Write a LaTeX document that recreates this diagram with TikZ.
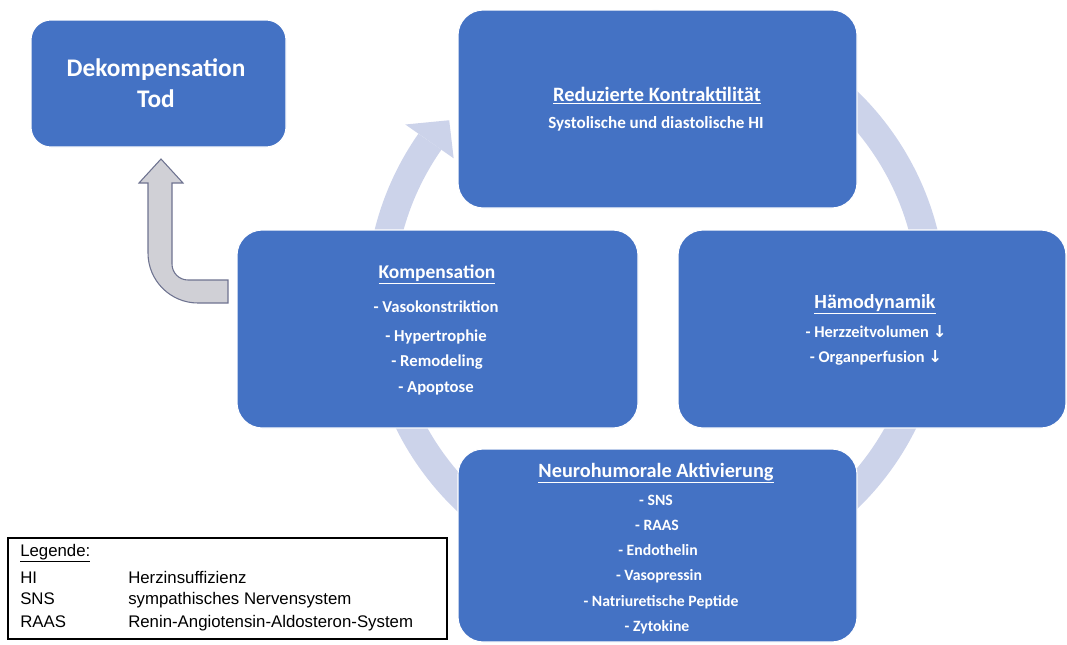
\documentclass[tikz,border=0pt]{standalone}
\usepackage{fontspec}
\setmainfont{Carlito}
\newfontfamily\legendfont{Liberation Sans}
\newfontfamily\arrowfont{DejaVu Sans}
\usetikzlibrary{calc}
\definecolor{boxblue}{HTML}{4472C4}
\definecolor{ringlav}{HTML}{CCD3EA}
\definecolor{arrowgrey}{HTML}{D0D0D6}
\definecolor{arrowedge}{HTML}{6E7390}
\newcommand{\dn}{{\arrowfont\char"2193}}
\begin{document}
\begin{tikzpicture}[x=0.75pt,y=-0.75pt,
  box/.style={fill=boxblue, draw=white, line width=0.8pt,
    rounded corners=19pt, inner sep=0pt},
  txt/.style={text=white, anchor=base, inner sep=0pt},
  head/.style={txt, font=\bfseries\fontsize{#1}{#1}\selectfont},
  item/.style={txt, font=\bfseries\fontsize{#1}{#1}\selectfont},
  legtxt/.style={anchor=base west, inner sep=0pt,
    font=\legendfont\fontsize{12.6}{12.6}\selectfont}]
\useasboundingbox (0,0) rectangle (1067,644);

% circular arrow behind the cycle boxes
\coordinate (rc) at (656,300);
\draw[ringlav, line width=21pt] ($(rc)+(235:276)$) arc[start angle=235, end angle=575, radius=276];
\fill[ringlav] ($(rc)+(215:247)$) -- ($(rc)+(215:306)$) -- ($(rc)+(221:274)$) -- cycle;

% cycle boxes
\node[box, minimum width=299.25pt, minimum height=148.5pt] (reduz) at (657.5,109) {};
\node[box, minimum width=291pt, minimum height=148.5pt] (haemo) at (872,329) {};
\node[box, minimum width=300.75pt, minimum height=148.5pt] (komp) at (437.5,329) {};
\node[box, minimum width=299.25pt, minimum height=144.75pt] (neuro) at (657.5,545.5) {};
\node[box, rounded corners=15pt, minimum width=191.25pt, minimum height=95.25pt] (dekomp) at (158.5,83.5) {};

% texts of the boxes
\node[txt, font=\bfseries\fontsize{19}{19}\selectfont] (dekompA) at (156,76) {Dekompensation};
\node[txt, font=\bfseries\fontsize{19}{19}\selectfont] (dekompB) at (156,107) {Tod};

\node[head=15.3] (reduzH) at (657,101) {\underline{Reduzierte Kontraktilität}};
\node[item=12.8] (reduzS) at (656,128) {Systolische und diastolische HI};

\node[head=15] (haemoH) at (875,308) {\underline{Hämodynamik}};
\node[item=12.3] (haemoA) at (876,337) {- Herzzeitvolumen \dn};
\node[item=12.3] (haemoB) at (876,362) {- Organperfusion \dn};

\node[head=14.6] (kompH) at (437,278) {\underline{Kompensation}};
\node[item=12.5] (kompA) at (436,312) {- Vasokonstriktion};
\node[item=12.5] (kompB) at (436,341) {- Hypertrophie};
\node[item=12.5] (kompC) at (437,366) {- Remodeling};
\node[item=12.5] (kompD) at (436,392) {- Apoptose};

\node[head=15.2] (neuroH) at (656,477) {\underline{Neurohumorale Aktivierung}};
\node[item=11.8] (neuroA) at (656,505) {- SNS};
\node[item=11.8] (neuroB) at (657,530) {- RAAS};
\node[item=11.8] (neuroC) at (658,555) {- Endothelin};
\node[item=11.8] (neuroD) at (659,580) {- Vasopressin};
\node[item=11.8] (neuroE) at (661,606) {- Natriuretische Peptide};
\node[item=11.8] (neuroF) at (657,631) {- Zytokine};

% bent arrow from Kompensation up to Dekompensation
\filldraw[fill=arrowgrey, draw=arrowedge, line width=0.8pt]
  (161,159) -- (183,183) -- (172,183) -- (172,264)
  arc[start angle=180, end angle=90, radius=16] -- (228,280)
  -- (228,303) -- (198,303)
  arc[start angle=90, end angle=180, radius=50] -- (148,183)
  -- (139,183) -- cycle;

% legend
\node[draw=black, line width=0.8pt, minimum width=329.25pt, minimum height=75.75pt, inner sep=0pt] (legend) at (227.5,588.5) {};
\node[legtxt] (legT) at (20,556) {\underline{Legende:}};
\node[legtxt] (legA) at (20,583) {HI};
\node[legtxt] (legAx) at (128,583) {Herzinsuffizienz};
\node[legtxt] (legB) at (20,604) {SNS};
\node[legtxt] (legBx) at (128,604) {sympathisches Nervensystem};
\node[legtxt] (legC) at (20,627) {RAAS};
\node[legtxt] (legCx) at (128,627) {Renin-Angiotensin-Aldosteron-System};
\end{tikzpicture}
\end{document}
